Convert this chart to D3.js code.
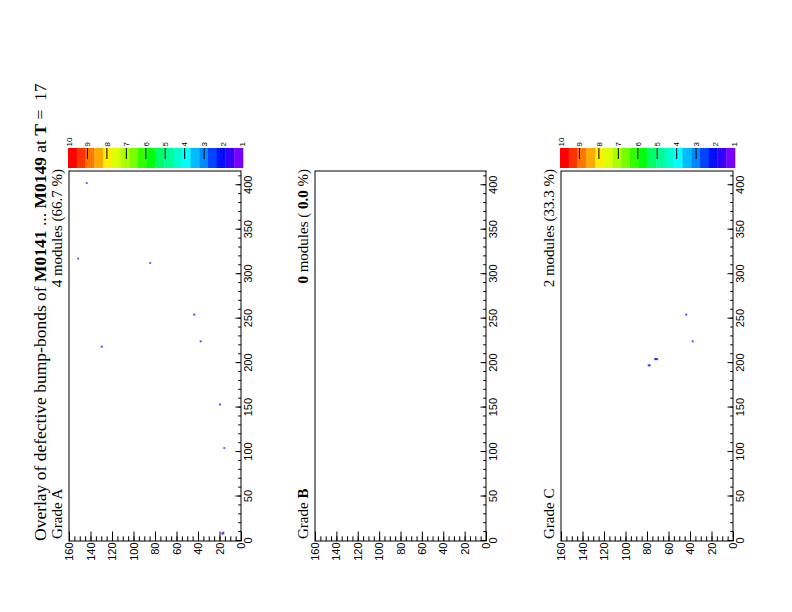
<!DOCTYPE html>
<html><head><meta charset="utf-8">
<script src="https://cdn.jsdelivr.net/npm/d3@7"></script>
<style>
html,body{margin:0;padding:0;background:#fff;}
svg{display:block;}
text{white-space:pre;}
</style></head>
<body>
<script>
// ---- data ----
const grades = ["A", "B", "C"];
const gradeBold = [false, true, false];
const moduleCounts = ["4", "0", "2"];
const modulePercents = ["66.7", "0.0", "33.3"];
const countBold = [false, true, false];
const showColorbar = [true, false, true];
// defects: [column, row, value]
const defectsA = [
  [402, 143, 1], [317, 151, 1], [312, 84, 1], [254, 43, 2], [224, 37, 2],
  [218, 129, 2], [153, 19, 2], [104, 15, 1], [8, 16, 1], [9, 16, 1], [8, 17, 1]
];
const defectsB = [];
const defectsC = [
  [254, 43, 2], [224, 37, 2], [204, 70, 2], [204, 71, 2], [204, 72, 2],
  [197, 77, 2], [197, 78, 2]
];
const xTicks = [0, 50, 100, 150, 200, 250, 300, 350, 400];
const yTicks = [0, 20, 40, 60, 80, 100, 120, 140, 160];
const zTicks = [1, 2, 3, 4, 5, 6, 7, 8, 9, 10];
const palette = ["#FF0000","#FF3300","#FF7700","#FFAA00","#FFEE00","#DDFF00","#AAFF00","#77FF00",
  "#33FF00","#00FF11","#00FF66","#00FF99","#00FFCC","#00FFFF","#00BBFF","#0088FF",
  "#0044FF","#0011FF","#3300FF","#7700FF"];
const title = ["Overlay of defective bump-bonds of ", "M0141", " ... ", "M0149", " at ", "T", " =  17"];
const titleBold = [false, true, false, true, false, true, false];

// ---- layout ----
const W = 792, H = 612;
const svg = d3.select("body").append("svg").attr("width", W).attr("height", H);
const g = svg.append("g").attr("transform", `translate(0,${H}) rotate(-90)`);
// inside g: u horizontal (0..612), v vertical (0..792)
const panelTops = [69, 315, 561];
const panelBottoms = [241, 486, 733];
const uLeft = 71, uRight = 441;
const defectSets = [defectsA, defectsB, defectsC];

const zColor = d3.scaleQuantize().domain([1, 10]).range(palette.slice().reverse());

// title
const t = g.append("text").attr("x", uLeft).attr("y", 46)
  .attr("font-family", "'Liberation Serif', 'Times New Roman', serif")
  .attr("font-size", 17.5).attr("fill", "#000");
title.forEach((s, i) => t.append("tspan").text(s).attr("font-weight", titleBold[i] ? "bold" : "normal"));

grades.forEach((gr, i) => {
  const top = panelTops[i], bottom = panelBottoms[i];
  const x = d3.scaleLinear().domain([0, 416]).range([uLeft, uRight]);
  const y = d3.scaleLinear().domain([0, 160]).range([bottom, top]);
  const p = g.append("g");

  // defects
  p.append("g").selectAll("rect").data(defectSets[i]).join("rect")
    .attr("x", d => x(d[0] + 0.5) - 1)
    .attr("y", d => y(d[1] + 0.5) - 1)
    .attr("width", 2).attr("height", 2)
    .attr("fill", d => zColor(d[2]))
    .attr("opacity", 0.7);

  // frame
  p.append("rect").attr("x", uLeft).attr("y", top)
    .attr("width", uRight - uLeft).attr("height", bottom - top)
    .attr("fill", "none").attr("stroke", "#000").attr("stroke-width", 1);

  // x axis
  const xMinor = d3.range(0, 417, 10);
  p.append("g").attr("transform", `translate(0,${bottom})`)
    .call(d3.axisBottom(x).tickValues(xMinor).tickSize(-2.8).tickFormat(""))
    .call(a => a.select(".domain").remove());
  const xa = p.append("g").attr("transform", `translate(0,${bottom})`)
    .call(d3.axisBottom(x).tickValues(xTicks).tickSize(-5.5).tickPadding(3).tickFormat(d3.format("d")));
  xa.select(".domain").remove();
  xa.selectAll("text").attr("font-family", "'Liberation Sans', Arial, sans-serif").attr("font-size", 11).attr("fill", "#000");

  // y axis
  const yMinor = d3.range(0, 161, 5);
  p.append("g").attr("transform", `translate(${uLeft},0)`)
    .call(d3.axisLeft(y).tickValues(yMinor).tickSize(-4.7).tickFormat(""))
    .call(a => a.select(".domain").remove());
  const ya = p.append("g").attr("transform", `translate(${uLeft},0)`)
    .call(d3.axisLeft(y).tickValues(yTicks).tickSize(-9.5).tickPadding(1.5).tickFormat(d3.format("d")));
  ya.select(".domain").remove();
  ya.selectAll("text").attr("font-family", "'Liberation Sans', Arial, sans-serif").attr("font-size", 11).attr("fill", "#000");

  // panel labels
  const gl = p.append("text").attr("x", uLeft + 2).attr("y", top - 7)
    .attr("font-family", "'Liberation Serif', 'Times New Roman', serif").attr("font-size", 15);
  gl.append("tspan").text("Grade ");
  gl.append("tspan").text(gr).attr("font-weight", gradeBold[i] ? "bold" : "normal");
  const ml = p.append("text").attr("x", uRight + 2).attr("y", top - 7).attr("text-anchor", "end")
    .attr("font-family", "'Liberation Serif', 'Times New Roman', serif").attr("font-size", 15);
  const sp = countBold[i] ? " " : "";
  ml.append("tspan").text(moduleCounts[i]).attr("font-weight", countBold[i] ? "bold" : "normal");
  ml.append("tspan").text(" modules (" + sp);
  ml.append("tspan").text(modulePercents[i]).attr("font-weight", countBold[i] ? "bold" : "normal");
  ml.append("tspan").text(" %)");

  // colorbar
  if (showColorbar[i]) {
    const cb = p.append("g");
    const z = d3.scaleLinear().domain([10, 1]).range([top - 1, bottom + 2]);
    const cells = d3.range(palette.length);
    const cw = (z(1) - z(10)) / palette.length;
    cb.selectAll("rect").data(cells).join("rect")
      .attr("x", 444).attr("width", 20)
      .attr("y", k => z(10) + k * cw).attr("height", cw + 0.3)
      .attr("fill", k => palette[k]);
    cb.selectAll("line").data(zTicks.filter(d => d > 1 && d < 10)).join("line")
      .attr("x1", 464).attr("x2", 453).attr("y1", d => z(d)).attr("y2", d => z(d))
      .attr("stroke", "#000").attr("stroke-width", 1);
    cb.selectAll("text").data(zTicks).join("text")
      .attr("x", 465.5).attr("y", d => z(d) + (d === 10 ? 1.5 : d === 1 ? -1 : 0))
      .attr("dy", "0.35em")
      .attr("font-family", "'Liberation Sans', Arial, sans-serif").attr("font-size", 8)
      .text(d => d);
  }
});
</script>
</body></html>
